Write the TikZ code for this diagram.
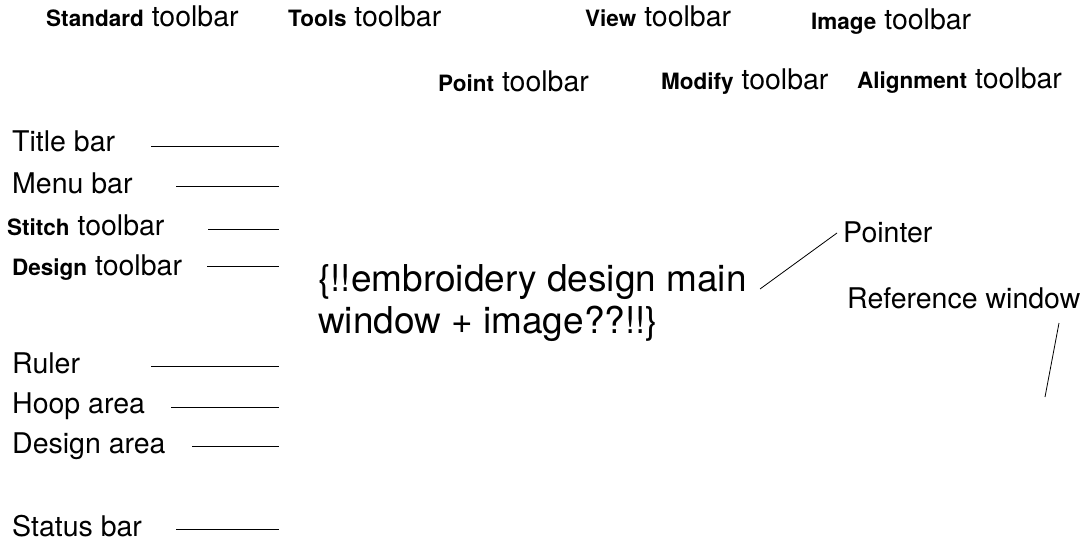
\documentclass[tikz,border=0pt]{standalone}
\usepackage{fontspec}
\setmainfont{TeX Gyre Heros}
\usepackage{tikz}
\usetikzlibrary{positioning,calc}
\definecolor{ink}{HTML}{000000}
\newcommand{\bld}[1]{{\fontsize{22.5}{27}\selectfont\bfseries #1}}
\tikzset{
  % --- nodes
  lbl/.style  = {anchor=base west, inner sep=0pt, text=ink,
                 font=\fontsize{28.5}{34}\selectfont},
  big/.style  = {lbl, align=left, font=\fontsize{37}{41.5}\selectfont},
  % --- edges
  lead/.style = {draw=ink, line width=1.5pt},
  thin/.style = {draw=ink, line width=0.8pt},
}
\begin{document}
\begin{tikzpicture}[x=1pt,y=-1pt]
  \useasboundingbox (0,0) rectangle (1090,541);
  % toolbars on top
  \node[lbl] (standard) at (46,26.5)   {\bld{Standard} toolbar};
  \node[lbl] (tools)    at (288,26)    {\bld{Tools} toolbar};
  \node[lbl] (view)     at (585,26)    {\bld{View} toolbar};
  \node[lbl] (image)    at (811,29.5)  {\bld{Image} toolbar};
  \node[lbl] (point)    at (438,91)    {\bld{Point} toolbar};
  \node[lbl] (modify)   at (661,89)    {\bld{Modify} toolbar};
  \node[lbl] (align)    at (857,88)    {\bld{Alignment} toolbar};
  % left column
  \node[lbl] (title)    at (12,151.7)  {Title bar};
  \node[lbl] (menu)     at (12,193)    {Menu bar};
  \node[lbl] (stitch)   at (7,235)     {\bld{Stitch} toolbar};
  \node[lbl] (design)   at (12,275)    {\bld{Design} toolbar};
  \node[lbl] (ruler)    at (12,373)    {Ruler};
  \node[lbl] (hoop)     at (12,413)    {Hoop area};
  \node[lbl] (darea)    at (12,453)    {Design area};
  \node[lbl] (status)   at (12,536.5)  {Status bar};
  \coordinate (title-a)  at (151,146.7);  \coordinate (title-b)  at (279,146.7);
  \coordinate (menu-a)   at (176,186.7);  \coordinate (menu-b)   at (279,186.7);
  \coordinate (stitch-a) at (208,229.3);  \coordinate (stitch-b) at (279,229.3);
  \coordinate (design-a) at (207,266.7);  \coordinate (design-b) at (279,266.7);
  \coordinate (ruler-a)  at (151,366.7);  \coordinate (ruler-b)  at (279,366.7);
  \coordinate (hoop-a)   at (171,407.7);  \coordinate (hoop-b)   at (279,407.7);
  \coordinate (darea-a)  at (192,446.7);  \coordinate (darea-b)  at (279,446.7);
  \coordinate (status-a) at (176,529.3);  \coordinate (status-b) at (279,529.3);
  \foreach \n in {title,menu,stitch,design,ruler,hoop,darea,status}
    \draw[lead] (\n-a) -- (\n-b);
  % placeholder for the screenshot
  \node[big] (main) at (318,333) {\{!!embroidery design main\\window + image??!!\}};
  % right side
  \node[lbl] (pointer) at (843,242.7) {Pointer};
  \node[lbl] (refwin)  at (847,308)   {Reference window};
  \coordinate (pointer-a) at (760,289);
  \coordinate (pointer-b) at (837,233);
  \coordinate (refwin-a)  at (1059,323);
  \coordinate (refwin-b)  at (1045,397);
  \draw[thin] (pointer-a) -- (pointer-b);
  \draw[thin] (refwin-a) -- (refwin-b);
\end{tikzpicture}
\end{document}
